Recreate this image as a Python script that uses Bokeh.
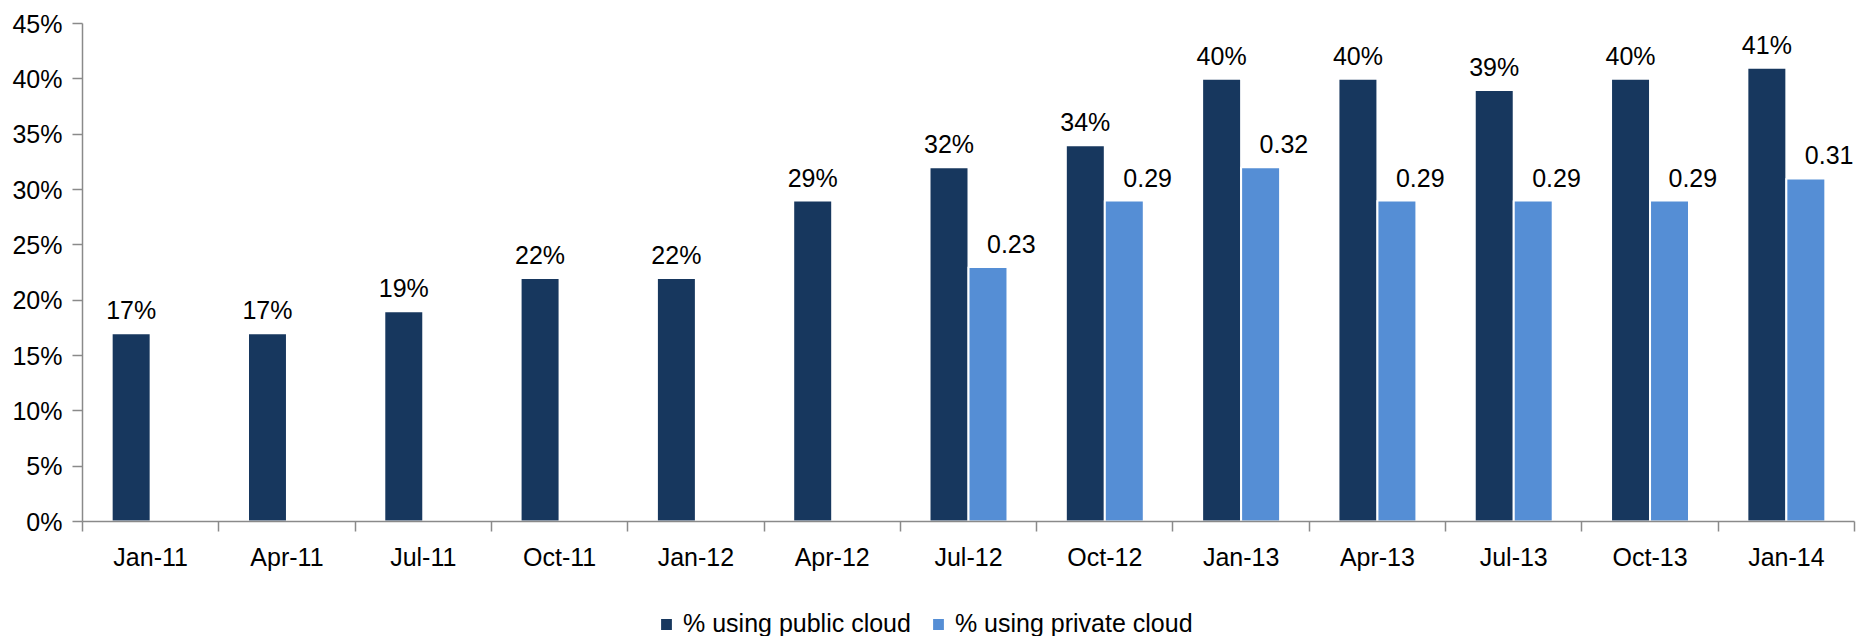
from bokeh.plotting import figure
from bokeh.layouts import column
from bokeh.models import (ColumnDataSource, FixedTicker, NumeralTickFormatter, Range1d,
                          Legend, LegendItem, LabelSet)
from bokeh.core.properties import value
from bokeh.transform import dodge
from bokeh.embed import file_html
from bokeh.resources import INLINE

categories = ["Jan-11", "Apr-11", "Jul-11", "Oct-11", "Jan-12", "Apr-12", "Jul-12",
              "Oct-12", "Jan-13", "Apr-13", "Jul-13", "Oct-13", "Jan-14"]
public_cloud = [0.17, 0.17, 0.19, 0.22, 0.22, 0.29, 0.32, 0.34, 0.40, 0.40, 0.39, 0.40, 0.41]
private_cloud = [None, None, None, None, None, None, 0.23, 0.29, 0.32, 0.29, 0.29, 0.29, 0.31]
y_ticks = [0, 0.05, 0.10, 0.15, 0.20, 0.25, 0.30, 0.35, 0.40, 0.45]
series_names = ["% using public cloud", "% using private cloud"]

DARK = "#17375E"
LIGHT = "#558ED5"
AXIS = "#8a8a8a"
FONT = "Liberation Sans"

n = len(categories)
centers = [i + 0.5 for i in range(n)]

pub_src = ColumnDataSource(dict(
    x=centers, y=public_cloud,
    label=[f"{round(v * 100)}%" for v in public_cloud]))
priv_idx = [i for i, v in enumerate(private_cloud) if v is not None]
priv_src = ColumnDataSource(dict(
    x=[centers[i] for i in priv_idx],
    y=[private_cloud[i] for i in priv_idx],
    label=[f"{private_cloud[i]:.2f}" for i in priv_idx]))

p = figure(width=1863, height=573, output_backend="svg", toolbar_location=None,
           x_range=Range1d(0, n), y_range=Range1d(0, 0.45),
           min_border_left=82, min_border_right=9, min_border_top=23, min_border_bottom=50)
p.outline_line_color = None
p.xgrid.visible = False
p.ygrid.visible = False

off = 0.143
bw = 0.286
bar_style = dict(line_color="white", line_width=2)
p.vbar(x=dodge("x", -off, range=p.x_range), top="y", bottom=0, width=bw,
       source=pub_src, fill_color=DARK, **bar_style)
p.vbar(x=dodge("x", off, range=p.x_range), top="y", bottom=0, width=bw,
       source=priv_src, fill_color=LIGHT, **bar_style)

pub_labels = LabelSet(x=dodge("x", -off, range=p.x_range), y="y", text="label", source=pub_src,
                      text_align="center", text_baseline="alphabetic", y_offset=14,
                      text_font=value(FONT), text_font_size="25px", text_color="black")
priv_labels = LabelSet(x=dodge("x", off, range=p.x_range), y="y", text="label", source=priv_src,
                       text_align="left", text_baseline="alphabetic", y_offset=14, x_offset=-1,
                       text_font=value(FONT), text_font_size="25px", text_color="black")
p.add_layout(pub_labels)
p.add_layout(priv_labels)

# x axis: labels at category centres, ticks at category boundaries
xax = p.xaxis[0]
xax.ticker = FixedTicker(ticks=centers, minor_ticks=list(range(n + 1)))
xax.major_label_overrides = {c: lab for c, lab in zip(centers, categories)}
xax.major_tick_line_color = None
xax.major_tick_out = 10
xax.major_tick_in = 0
xax.minor_tick_line_color = AXIS
xax.minor_tick_line_width = 1.5
xax.minor_tick_out = 10
xax.minor_tick_in = 0
xax.axis_line_color = AXIS
xax.axis_line_width = 1.5
xax.major_label_standoff = 11
xax.major_label_text_font = FONT
xax.major_label_text_font_size = "25px"
xax.major_label_text_color = "black"

yax = p.yaxis[0]
yax.ticker = FixedTicker(ticks=y_ticks, minor_ticks=[])
yax.formatter = NumeralTickFormatter(format="0%")
yax.major_tick_line_color = AXIS
yax.major_tick_line_width = 1.5
yax.major_tick_out = 10
yax.major_tick_in = 0
yax.axis_line_color = AXIS
yax.axis_line_width = 1.5
yax.major_label_standoff = 10
yax.major_label_text_font = FONT
yax.major_label_text_font_size = "25px"
yax.major_label_text_color = "black"

# legend strip below the chart (key renderers are zero-height, white-outlined: invisible)
lg = figure(width=1863, height=63, output_backend="svg", toolbar_location=None,
            x_range=Range1d(0, 1), y_range=Range1d(0, 1), min_border=0,
            x_axis_location=None, y_axis_location=None)
lg.outline_line_color = None
lg.xgrid.visible = False
lg.ygrid.visible = False
key_src = ColumnDataSource(dict(x=[0.5], top=[0]))
k_pub = lg.vbar(x="x", top="top", bottom=0, width=0.01, source=key_src,
                fill_color=DARK, line_color="white", line_width=2)
k_priv = lg.vbar(x="x", top="top", bottom=0, width=0.01, source=key_src,
                 fill_color=LIGHT, line_color="white", line_width=2)
legend = Legend(items=[LegendItem(label=series_names[0], renderers=[k_pub]),
                       LegendItem(label=series_names[1], renderers=[k_priv])],
                orientation="horizontal", location=(576, -2),
                glyph_width=16, glyph_height=16, label_standoff=9, spacing=19,
                padding=0, margin=0, border_line_color=None, background_fill_alpha=0,
                label_text_font=FONT, label_text_font_size="25px", label_text_color="black")
lg.add_layout(legend, "center")

layout = column(p, lg, spacing=0)
open("out.html", "w").write(file_html(layout, INLINE))
